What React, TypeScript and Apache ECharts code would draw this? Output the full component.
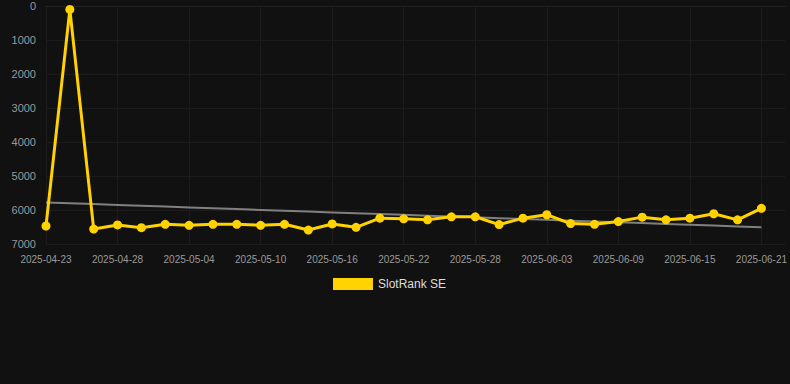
import React, { useEffect, useRef } from "react";
import * as echarts from "echarts";

const dates = [
  "2025-04-23", "2025-04-25", "2025-04-26", "2025-04-28", "2025-04-30", "2025-05-02",
  "2025-05-04", "2025-05-06", "2025-05-08", "2025-05-10", "2025-05-12", "2025-05-14",
  "2025-05-16", "2025-05-18", "2025-05-20", "2025-05-22", "2025-05-24", "2025-05-26",
  "2025-05-28", "2025-05-30", "2025-06-01", "2025-06-03", "2025-06-05", "2025-06-07",
  "2025-06-09", "2025-06-11", "2025-06-13", "2025-06-15", "2025-06-17", "2025-06-19",
  "2025-06-21",
];

const rankValues = [
  6470, 100, 6560, 6440, 6520, 6420, 6450, 6420, 6420, 6450, 6420, 6590,
  6410, 6510, 6240, 6260, 6290, 6200, 6200, 6430, 6240, 6140, 6400, 6420,
  6340, 6210, 6290, 6240, 6110, 6290, 5950,
];

const seriesName = "SlotRank SE";
const yTicks = { min: 0, max: 7000, interval: 1000 };

function trend(values: number[]): number[] {
  const n = values.length;
  const mx = (n - 1) / 2;
  const my = values.reduce((a, b) => a + b, 0) / n;
  let sxy = 0;
  let sxx = 0;
  values.forEach((v, i) => {
    sxy += (i - mx) * (v - my);
    sxx += (i - mx) * (i - mx);
  });
  const slope = sxy / sxx;
  return values.map((_, i) => my + slope * (i - mx));
}

export default function App() {
  const ref = useRef<HTMLDivElement>(null);
  useEffect(() => {
    document.body.style.margin = "0";
    document.body.style.background = "#111111";
    const chart = echarts.init(ref.current!, null, { renderer: "svg" });
    const font = "Liberation Sans, Arial, sans-serif";
    const categories = [...dates, ""];
    chart.setOption({
      animation: false,
      backgroundColor: "#111111",
      textStyle: { fontFamily: font },
      grid: { left: 46, right: 4, top: 6, bottom: 140 },
      legend: {
        data: [seriesName],
        left: 328,
        top: 273,
        icon: "rect",
        itemWidth: 40,
        itemHeight: 12,
        itemGap: 10,
        textStyle: { color: "#dddddd", fontSize: 12, fontFamily: font },
      },
      xAxis: {
        type: "category",
        data: categories,
        boundaryGap: false,
        axisLine: { show: true, lineStyle: { color: "#222222" } },
        axisTick: { show: false },
        axisLabel: {
          interval: 2,
          color: "#999999",
          fontSize: 10,
          margin: 10,
          fontFamily: font,
        },
        splitLine: {
          show: true,
          interval: 2,
          lineStyle: { color: "#1c1c1c", width: 1 },
        },
      },
      yAxis: {
        type: "value",
        inverse: true,
        min: yTicks.min,
        max: yTicks.max,
        interval: yTicks.interval,
        axisLine: { show: false },
        axisTick: { show: false },
        axisLabel: {
          color: "#999999",
          fontSize: 11,
          margin: 10,
          fontFamily: font,
          formatter: (v: number) => String(v),
        },
        splitLine: { show: true, lineStyle: { color: "#1c1c1c", width: 1 } },
      },
      series: [
        {
          name: "Trend",
          type: "line",
          data: trend(rankValues),
          symbol: "none",
          lineStyle: { color: "#808080", width: 2 },
          itemStyle: { color: "#808080" },
          z: 1,
        },
        {
          name: seriesName,
          type: "line",
          data: rankValues,
          symbol: "circle",
          symbolSize: 9,
          lineStyle: { color: "#ffd200", width: 3 },
          itemStyle: { color: "#ffd200" },
          z: 2,
        },
      ],
    });
    return () => chart.dispose();
  }, []);
  return <div ref={ref} style={{ width: 790, height: 384 }} />;
}
